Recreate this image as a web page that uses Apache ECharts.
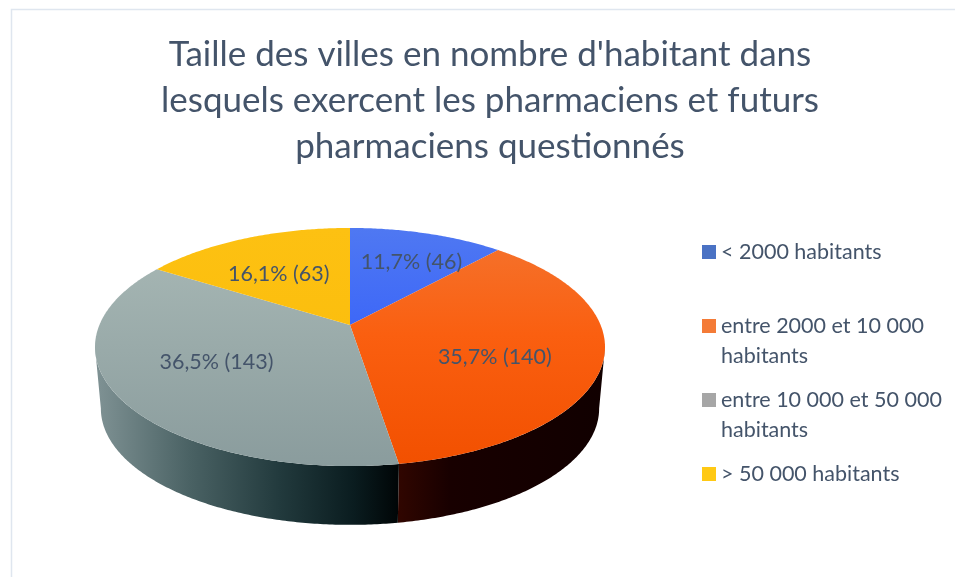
<!DOCTYPE html>
<html><head><meta charset="utf-8">
<style>html,body{margin:0;padding:0;background:#fff}#c{width:955px;height:577px}</style>
<script src="https://cdn.jsdelivr.net/npm/echarts@6/dist/echarts.min.js"></script>
</head><body><div id="c"></div>
<script>
// Data
const titleText = "Taille des villes en nombre d'habitant dans\nlesquels exercent les pharmaciens et futurs\npharmaciens questionnés";
const categories = ["< 2000 habitants", "entre 2000 et 10 000\nhabitants", "entre 10 000 et 50 000\nhabitants", "> 50 000 habitants"];
const counts = [46, 140, 143, 63];
const percentLabels = ["11,7%", "35,7%", "36,5%", "16,1%"];

// Style
const INK = "#44546a";
const FONT = "Lato, 'Open Sans', sans-serif";
const labelRadius = [0.7, 0.6, 0.6, 0.6];
const labelNudge = [[5, 4], [-4, 12], [0, -4], [-5, 4]];
const topStops = [
  [[0, "#4f78f2"], [1, "#2450ff"]],
  [[0, "#f4742f"], [0.45, "#fa5f10"], [1, "#f25000"]],
  [[0, "#a9b9b6"], [1, "#8a9c9d"]],
  [[0, "#fdc112"], [1, "#fabb08"]]
];
const sideStops = [
  [[0, "#222"], [1, "#111"]],
  [[0, "#300600"], [0.25, "#180000"], [1, "#110000"]],
  [[0, "#7d9092"], [0.3, "#4a6264"], [0.6, "#223a3d"], [0.85, "#0a1c1f"], [1, "#000506"]],
  [[0, "#222"], [1, "#111"]]
];
const legendStops = [
  ["#4a72c4", "#2c55a6"], ["#f47b37", "#e8641f"], ["#a6a6a6", "#8e8e8e"], ["#ffc914", "#e6ae10"]
];
const legendTops = [237, 311, 385, 459];
const squareTops = [245, 319, 393, 467];

// Projection of the tilted disc: a unit circle seen in perspective
const P = { cx: 350, apexY: 325, A: 250.6, B: 115, p: 0.185, depth: 62, baseScale: 0.977 };
function project(r, theta, base) {
  const u = r * Math.sin(theta), v = r * Math.cos(theta), w = 1 + P.p * v;
  const s = base ? P.baseScale : 1;
  return [P.cx + s * P.A * u / w, P.apexY + (base ? P.depth : 0) - s * P.B * v / w];
}
const total = counts.reduce((a, b) => a + b, 0);
const starts = counts.map((_, i) => counts.slice(0, i).reduce((a, b) => a + b, 0) / total * Math.PI * 2);
// the wall is only visible between the two points where the rim is widest
const wallFrom = Math.acos(-P.p), wallTo = Math.PI * 2 - wallFrom;
function rim(a0, a1, base) {
  const n = Math.max(4, Math.ceil((a1 - a0) / 0.01)), pts = [];
  for (let k = 0; k <= n; k++) pts.push(project(1, a0 + (a1 - a0) * k / n, base));
  return pts;
}
function grad(stops, x, y, x2, y2) {
  return { type: "linear", global: true, x, y, x2, y2, colorStops: stops.map(s => ({ offset: s[0], color: s[1] })) };
}
function sliceRenderer(i) {
  return function (params, api) {
    const value = api.value(0);
    const a0 = starts[i], a1 = a0 + value / total * Math.PI * 2;
    const top = rim(a0, a1, false);
    const mid = project(labelRadius[i], (a0 + a1) / 2, false);
    const children = [];
    const w0 = Math.max(a0, wallFrom), w1 = Math.min(a1, wallTo);
    if (w1 > w0) {
      children.push({ type: "polygon", z2: 1,
        shape: { points: rim(w0, w1, false).concat(rim(w0, w1, true).reverse()) },
        style: { fill: grad(sideStops[i], i === 1 ? 399 : 100, 0, i === 1 ? 602 : 399, 0) } });
    }
    children.push(
      { type: "polygon", z2: 10, shape: { points: [[P.cx, P.apexY]].concat(top) },
        style: { fill: grad(topStops[i], 0, 228, 0, 466) } },
      { type: "text", z2: 20, x: mid[0] + labelNudge[i][0], y: mid[1] + labelNudge[i][1],
        style: { text: percentLabels[i] + " (" + value + ")", fill: INK, font: "21.5px " + FONT, align: "center", verticalAlign: "middle" } }
    );
    return { type: "group", children };
  };
}

const chart = echarts.init(document.getElementById("c"), null, { renderer: "canvas" });
chart.setOption({
  animation: false,
  backgroundColor: "#fff",
  title: { text: titleText, left: 485, top: 27, textAlign: "center",
    textStyle: { color: INK, fontFamily: FONT, fontWeight: "normal", fontSize: 35, lineHeight: 46 } },
  legend: categories.map((name, i) => {
    const two = name.includes("\n");
    return {
      show: true, selectedMode: false, orient: "vertical", left: 702, top: legendTops[i], padding: 0,
      itemWidth: 14, itemHeight: two ? 44 : 14, itemGap: 0,
      textStyle: { color: INK, fontFamily: FONT, fontSize: 21.5, lineHeight: 30 },
      data: [{ name,
        icon: two ? "path://M0 0H14V14H0Z M0 44L0 44" : "rect",
        itemStyle: { color: grad([[0, legendStops[i][0]], [1, legendStops[i][1]]], 0, squareTops[i], 0, squareTops[i] + 14), borderWidth: 0 } }]
    };
  }),
  graphic: [{ type: "rect", silent: true, z: -1, shape: { x: 11.5, y: 9.5, width: 1000, height: 600 },
    style: { fill: "none", stroke: "#dfe6ef", lineWidth: 1.5 } }],
  series: categories.map((name, i) => ({
    type: "custom", name, silent: true, coordinateSystem: "none",
    encode: { value: 0 }, data: [[counts[i]]], renderItem: sliceRenderer(i)
  }))
});
</script></body></html>
